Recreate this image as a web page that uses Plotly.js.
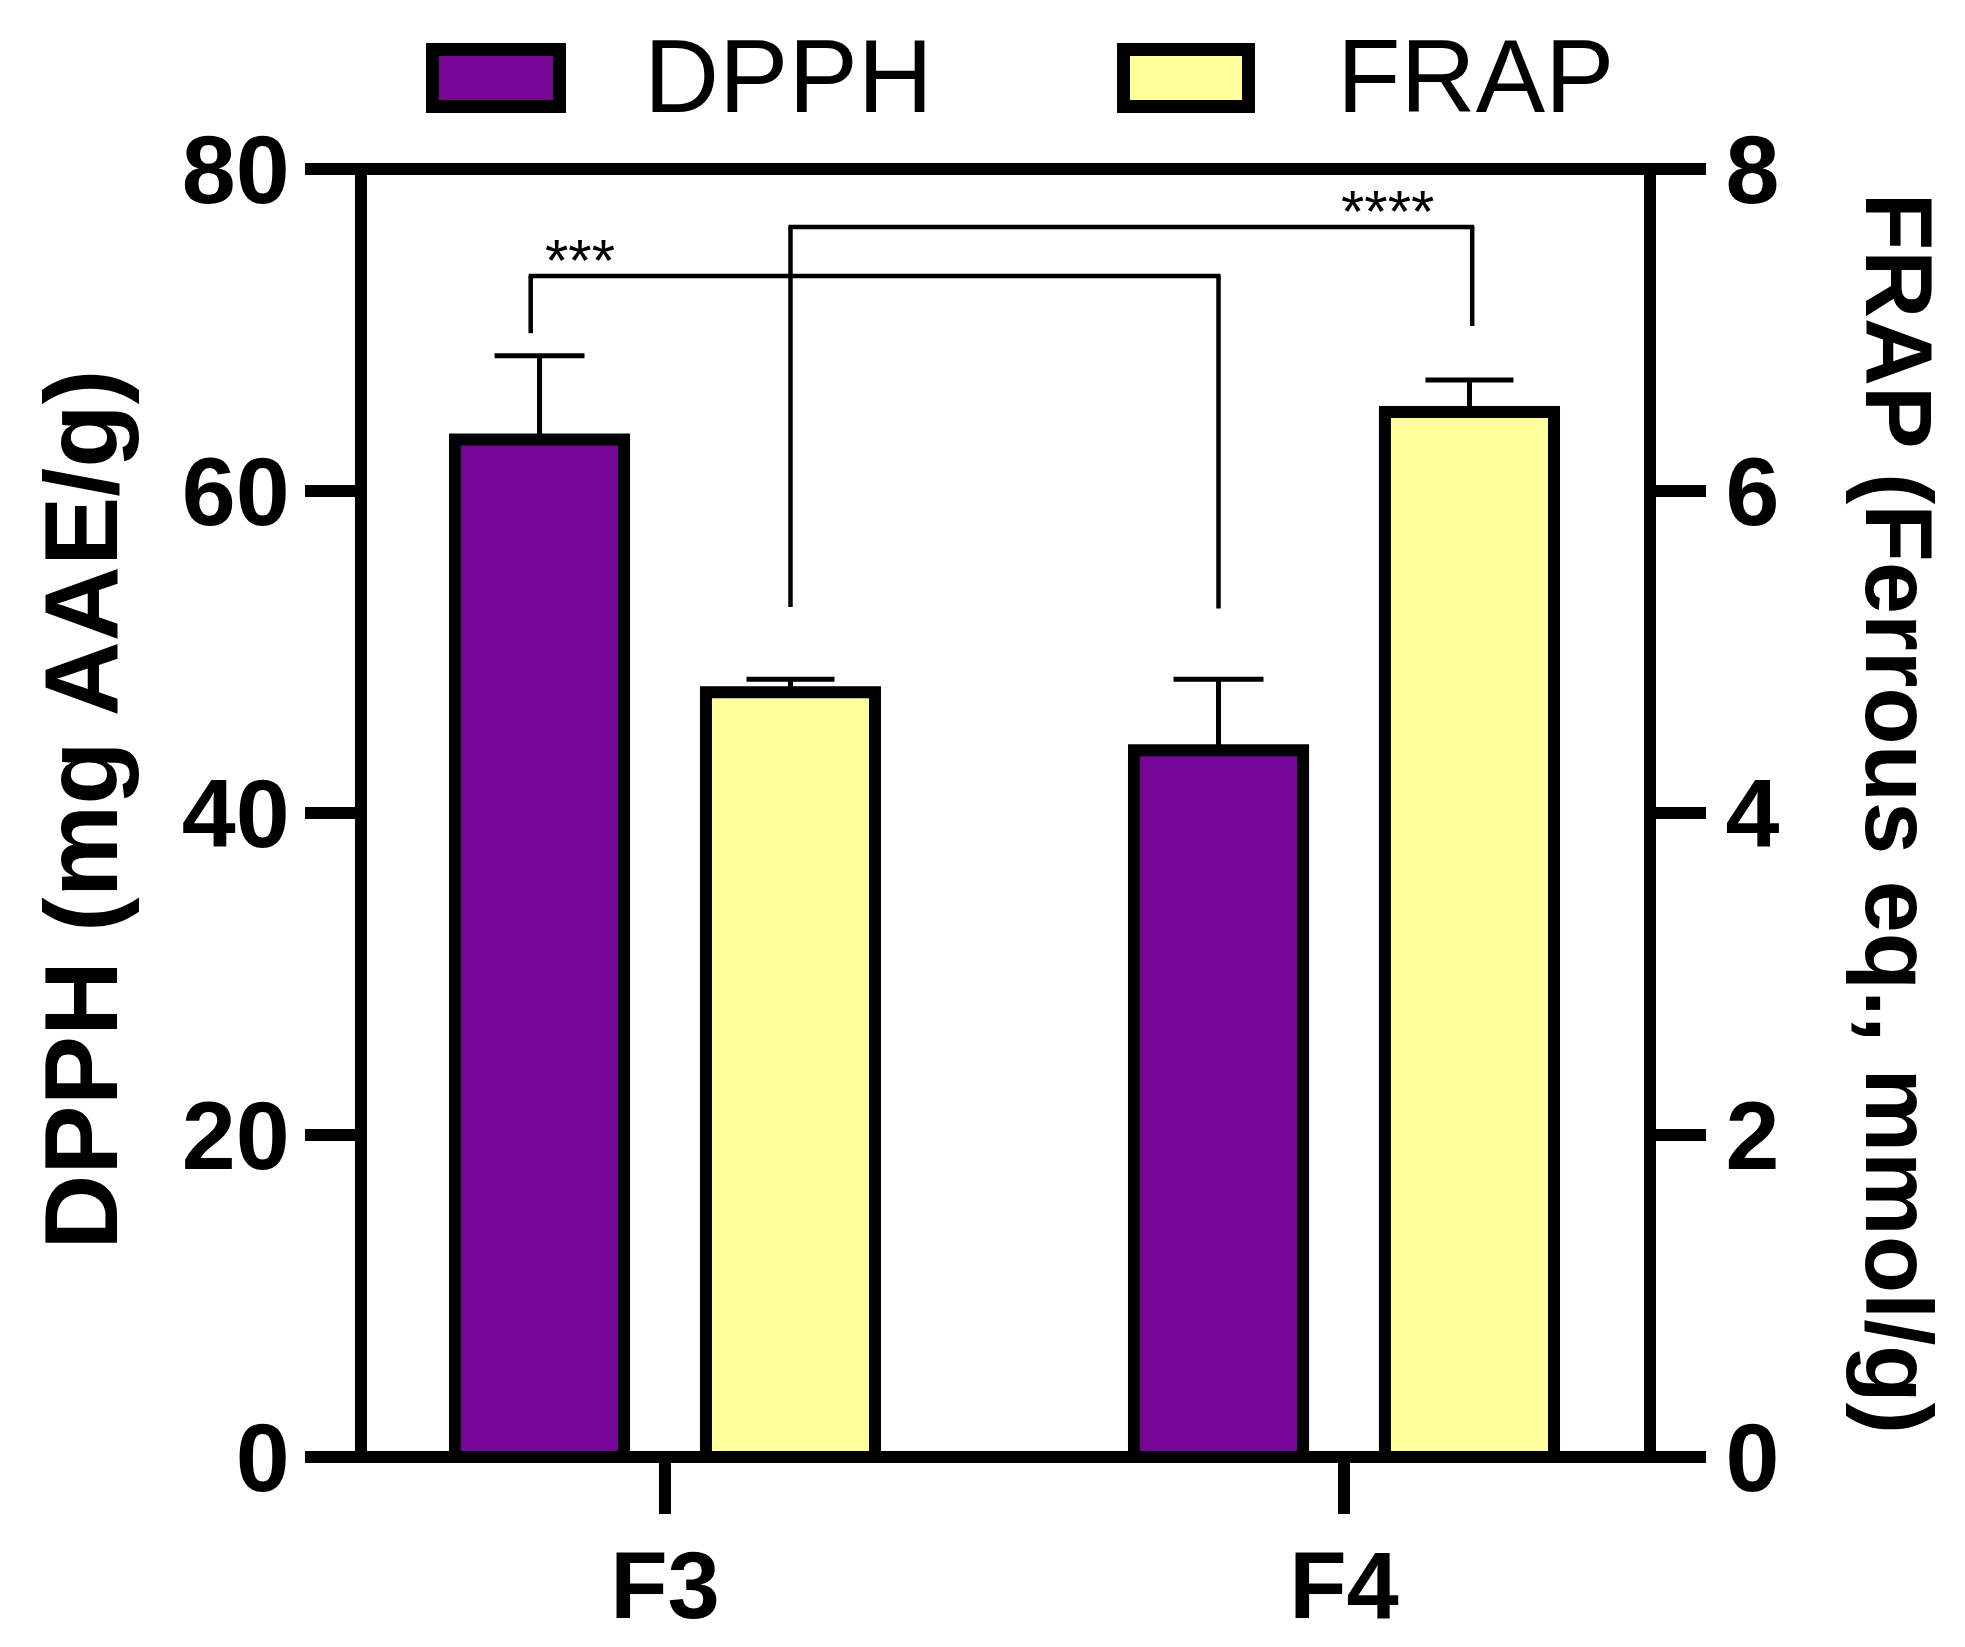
<!DOCTYPE html>
<html><head><meta charset="utf-8">
<script src="https://cdn.plot.ly/plotly-3.0.1.min.js"></script>
<style>html,body{margin:0;padding:0;background:#fff}</style>
</head><body><div id="chart" style="width:1965px;height:1647px"></div>
<script>
// ---- data ----
const categories = ['F3', 'F4'];
const seriesNames = ['DPPH', 'FRAP'];
const dpphValues = [63.2, 43.9];
const dpphErrors = [5.2, 4.4];
const frapValues = [4.75, 6.49];
const frapErrors = [0.08, 0.20];
const leftTickValues = [0, 20, 40, 60, 80];
const rightTickValues = [0, 2, 4, 6, 8];
const sigLabels = ['***', '****'];
const sigBarLevels = [73.35, 76.4];            // DPPH-axis units
const sigLegEnds = [[69.8, 52.7], [52.8, 70.25]];
const sigPairs = [[[0, 0], [1, 0]], [[0, 1], [1, 1]]]; // [category index, series index]

// ---- styling / geometry ----
const W = 1965, H = 1647;
const L = 367, R = 1644, T = 169, B = 1457.5;
const PW = R - L, PH = B - T;
const purple = '#760696', yellow = '#FFFF9C';
const barW = 0.249, half = 0.1848;
const seriesOffset = [-half, half];
const legNudge = [[-0.013, 0], [0, 0.004]];
const font = 'Liberation Sans, Arial, sans-serif';
const px = x => (x - L) / PW;
const py = y => (B - y) / PH;

const traces = [
  {
    type: 'bar', name: seriesNames[0], x: categories, y: dpphValues,
    xaxis: 'x', yaxis: 'y',
    width: barW, offset: seriesOffset[0] - barW / 2,
    marker: {color: purple, line: {color: '#000', width: 12}},
    error_y: {type: 'data', symmetric: false, array: dpphErrors, arrayminus: dpphErrors.map(() => 0),
              color: '#000', thickness: 5, width: 45},
    showlegend: false, hoverinfo: 'skip'
  },
  {
    type: 'bar', name: seriesNames[1], x: categories, y: frapValues,
    xaxis: 'x', yaxis: 'y2',
    width: barW, offset: seriesOffset[1] - barW / 2,
    marker: {color: yellow, line: {color: '#000', width: 12}},
    error_y: {type: 'data', symmetric: false, array: frapErrors, arrayminus: frapErrors.map(() => 0),
              color: '#000', thickness: 5, width: 44},
    showlegend: false, hoverinfo: 'skip'
  }
];

const shapes = [];
const annotations = [];

// frame lines (top & bottom) spanning tick extents
[0, 1].forEach(yp => shapes.push({
  type: 'line', xref: 'paper', yref: 'paper', x0: px(305), x1: px(1705), y0: yp, y1: yp,
  line: {color: '#000', width: 12}, layer: 'above'
}));

// significance brackets
sigPairs.forEach((pair, k) => {
  const xa = pair[0][0] + seriesOffset[pair[0][1]] + legNudge[k][0];
  const xb = pair[1][0] + seriesOffset[pair[1][1]] + legNudge[k][1];
  const lvl = sigBarLevels[k];
  const ln = {color: '#000', width: 4.5};
  shapes.push({type: 'line', xref: 'x', yref: 'y', x0: xa, x1: xa, y0: sigLegEnds[k][0], y1: lvl, line: ln, layer: 'above'});
  shapes.push({type: 'line', xref: 'x', yref: 'y', x0: xa - 0.003, x1: xb + 0.003, y0: lvl, y1: lvl, line: ln, layer: 'above'});
  shapes.push({type: 'line', xref: 'x', yref: 'y', x0: xb, x1: xb, y0: sigLegEnds[k][1], y1: lvl, line: ln, layer: 'above'});
});
annotations.push({xref: 'paper', yref: 'paper', x: px(580), y: py(261), text: sigLabels[0], showarrow: false,
  xanchor: 'center', yanchor: 'middle', font: {family: font, size: 60, color: '#000'}});
annotations.push({xref: 'paper', yref: 'paper', x: px(1387), y: py(212), text: sigLabels[1], showarrow: false,
  xanchor: 'center', yanchor: 'middle', font: {family: font, size: 60, color: '#000'}});

// custom legend
const legendBoxes = [[432.5, 559.5], [1123.5, 1248.5]];
const legendTextX = [648, 1341];
[purple, yellow].forEach((c, i) => {
  shapes.push({type: 'rect', xref: 'paper', yref: 'paper',
    x0: px(legendBoxes[i][0]), x1: px(legendBoxes[i][1]), y0: py(106.5), y1: py(49.5),
    fillcolor: c, line: {color: '#000', width: 13}});
  annotations.push({xref: 'paper', yref: 'paper', x: px(legendTextX[i] - 6), y: py(76),
    text: seriesNames[i], showarrow: false, xanchor: 'left', yanchor: 'middle',
    font: {family: font, size: 104, color: '#000'}});
});

// axis titles
annotations.push({xref: 'paper', yref: 'paper', x: px(81), y: py(810), text: 'DPPH (mg AAE/g)',
  textangle: -90, showarrow: false, xanchor: 'center', yanchor: 'middle',
  font: {family: font, size: 104, color: '#000', weight: 'bold'}});
annotations.push({xref: 'paper', yref: 'paper', x: px(1898), y: py(813), text: 'FRAP (Ferrous eq., mmol/g)',
  textangle: 90, showarrow: false, xanchor: 'center', yanchor: 'middle',
  font: {family: font, size: 94, color: '#000', weight: 'bold'}});

const tickFont = {family: font, size: 97, color: '#000', weight: 'bold'};

const layout = {
  width: W, height: H,
  margin: {l: L, r: W - R, t: T, b: H - B, pad: 0},
  paper_bgcolor: '#fff', plot_bgcolor: '#fff',
  barmode: 'overlay',
  showlegend: false,
  xaxis: {
    type: 'category', categoryorder: 'array', categoryarray: categories,
    range: [(L - 665) / 679, (R - 665) / 679],
    showline: false, zeroline: false, showgrid: false,
    ticks: 'outside', ticklen: 56, tickwidth: 12, tickcolor: '#000',
    ticklabelstandoff: -9,
    tickfont: {family: font, size: 94, color: '#000', weight: 'bold'},
    fixedrange: true
  },
  yaxis: {
    range: [0, 80], tickvals: leftTickValues, ticktext: leftTickValues.map(String),
    showline: true, linewidth: 12, linecolor: '#000', zeroline: false, showgrid: false,
    ticks: 'outside', ticklen: 50, tickwidth: 12, tickcolor: '#000',
    ticklabelstandoff: -4,
    tickfont: tickFont, fixedrange: true
  },
  yaxis2: {
    overlaying: 'y', side: 'right',
    range: [0, 8], tickvals: rightTickValues, ticktext: rightTickValues.map(String),
    showline: true, linewidth: 12, linecolor: '#000', zeroline: false, showgrid: false,
    ticks: 'outside', ticklen: 50, tickwidth: 12, tickcolor: '#000',
    tickfont: tickFont, fixedrange: true
  },
  shapes: shapes,
  annotations: annotations
};

Plotly.newPlot('chart', traces, layout, {staticPlot: true, displayModeBar: false});
</script></body></html>
